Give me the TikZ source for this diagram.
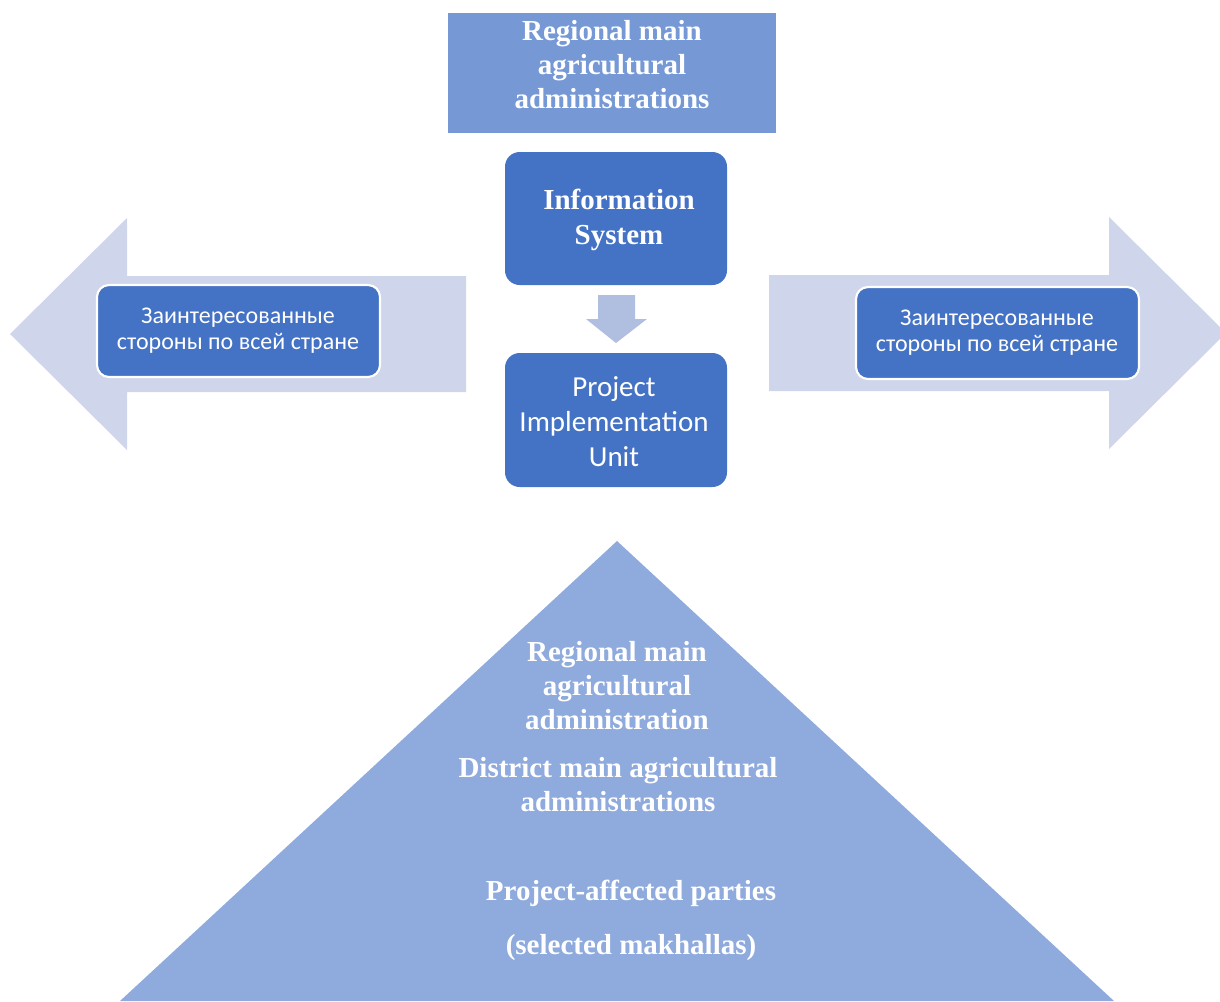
\documentclass[tikz,border=0pt]{standalone}
\usepackage{fontspec}
\setmainfont{Liberation Serif}
\setsansfont{Carlito}
\definecolor{darkblue}{HTML}{4472C4}
\definecolor{topblue}{HTML}{7699D5}
\definecolor{arrowgray}{HTML}{CFD5EA}
\definecolor{smallarrow}{HTML}{B0BEE0}
\definecolor{triblue}{HTML}{8FAADC}
\tikzset{
  bigtext/.style={text=white, align=center, font=\bfseries\fontsize{21.75}{25.5}\selectfont, inner sep=0pt},
  sanstext/.style={text=white, align=center, font=\sffamily\fontsize{21.75}{26.25}\selectfont, inner sep=0pt},
  cyrtext/.style={text=white, align=center, font=\sffamily\fontsize{18}{19.5}\selectfont, inner sep=0pt},
  rbox/.style={fill=darkblue, rounded corners=11pt},
  sidebox/.style={fill=darkblue, draw=white, line width=1.6pt, rounded corners=9pt},
}
\begin{document}
\begin{tikzpicture}[x=0.75pt, y=-0.75pt]
\useasboundingbox (0,0) rectangle (1220,1001);
% big side arrows
\fill[arrowgray] (10,334) -- (127,218) -- (127,276) -- (466,276) -- (466,392) -- (127,392) -- (127,450) -- cycle;
\fill[arrowgray] (1226,333) -- (1109,217) -- (1109,275) -- (769,275) -- (769,391) -- (1109,391) -- (1109,449) -- cycle;
% triangle
\fill[triblue] (617,541) -- (1114,1001) -- (120,1001) -- cycle;
% top box
\fill[topblue] (448,13) rectangle (776,133);
\node[bigtext] (top) at (612,65) {Regional main\\agricultural\\administrations};
% information system
\fill[rbox] (505,152) rectangle (727,285);
\node[bigtext, font=\bfseries\fontsize{21.75}{26.25}\selectfont] (info) at (619,220) {Information\\System};
% small down arrow
\fill[smallarrow] (598,295) -- (635,295) -- (635,319) -- (647,319) -- (616,343) -- (586,319) -- (598,319) -- cycle;
% PIU
\fill[rbox] (505,353) rectangle (727,487);
\node[sanstext] (piu) at (614,422) {Project\\Implementation\\Unit};
% side boxes
\draw[sidebox] (97,285) rectangle (380,377);
\node[cyrtext] (left) at (238,331) {Заинтересованные\\стороны по всей стране};
\draw[sidebox] (856,287) rectangle (1139,379);
\node[cyrtext] (right) at (997,333) {Заинтересованные\\стороны по всей стране};
% triangle texts
\node[bigtext] (reg) at (617,686) {Regional main\\agricultural\\administration};
\node[bigtext] (dist) at (618,785) {District main agricultural\\administrations};
\node[bigtext] (pap) at (631,893) {Project-affected parties};
\node[bigtext] (sel) at (631,948) {(selected makhallas)};
\end{tikzpicture}
\end{document}
